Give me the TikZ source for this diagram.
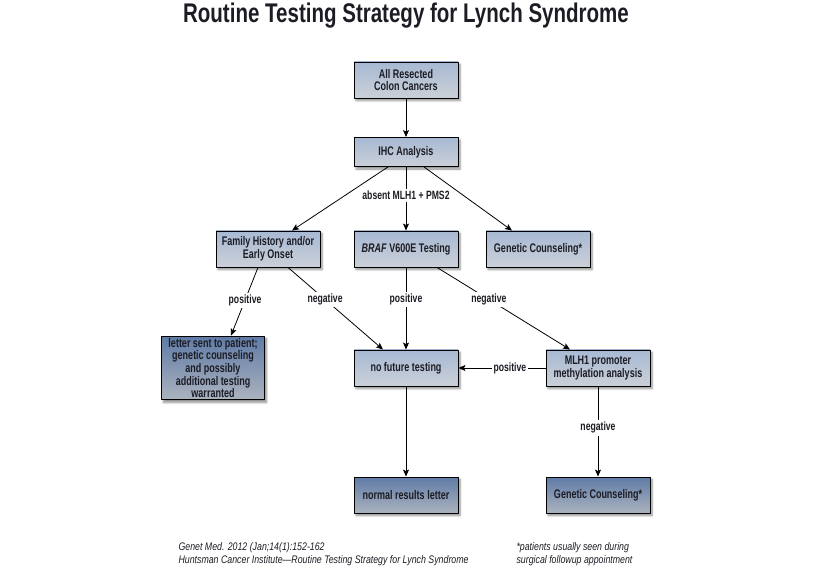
\documentclass[tikz,border=0pt]{standalone}
\usepackage{fontspec}
\setmainfont{Liberation Sans}[FakeStretch=0.8]
\newfontfamily\titlefont{Liberation Sans}[FakeStretch=0.76]
\newfontfamily\boxfont{Liberation Sans}[FakeStretch=0.72]
\usetikzlibrary{shadows.blur,arrows.meta}
\definecolor{lighttop}{HTML}{A7B9D3}
\definecolor{lightbot}{HTML}{CBD0D8}
\definecolor{darktop}{HTML}{5F7BA6}
\definecolor{darkbot}{HTML}{ABB3BF}
\definecolor{ink}{HTML}{1C1C24}
\begin{document}
\begin{tikzpicture}[x=1pt,y=-1pt,line cap=round,line join=round,>={Stealth[length=7pt,width=6pt,inset=1.5pt]},
	box/.style={draw=black,line width=0.9pt,top color=lighttop,bottom color=lightbot,
		minimum width=104pt,minimum height=36pt,align=center,inner sep=2pt,text=ink,
		font=\boxfont\bfseries\fontsize{12.5}{11.3}\selectfont,
		blur shadow={shadow xshift=2pt,shadow yshift=-2.5pt,shadow blur steps=6,shadow opacity=45}},
	darkbox/.style={box,top color=darktop,bottom color=darkbot},
	lbl/.style={fill=white,text=ink,inner sep=2pt,font=\boxfont\bfseries\fontsize{12}{12}\selectfont},
	note/.style={anchor=west,align=left,text=ink,font=\itshape\fontsize{11}{13}\selectfont},
	link/.style={->,line width=0.8pt}]
	\useasboundingbox (0,0) rectangle (820,572);
	\node[text=ink,font=\titlefont\bfseries\fontsize{27}{27}\selectfont] (title) at (406,16) {Routine Testing Strategy for Lynch Syndrome};
	% boxes
	\node[box] (allcc) at (406,80) {All Resected\\Colon Cancers};
	\node[box,minimum height=29pt] (ihc) at (406,152) {IHC Analysis};
	\node[box] (famhist) at (268,249) {Family History and/or\\Early Onset};
	\node[box] (braf) at (406,249) {\textit{BRAF} V600E Testing};
	\node[box] (gc) at (538,249) {Genetic Counseling*};
	\node[darkbox,minimum width=103pt,minimum height=63pt] (letter) at (213,368) {letter sent to patient;\\genetic counseling\\and possibly\\additional testing\\warranted};
	\node[box] (nofuture) at (406,368) {no future testing};
	\node[box] (mlh1) at (598,368) {MLH1 promoter\\methylation analysis};
	\node[darkbox] (normal) at (406,495) {normal results letter};
	\node[darkbox] (gcfinal) at (598,495) {Genetic Counseling*};
	% links
	\draw[link] (allcc) -- (ihc);
	\draw[link] ([xshift=-18pt]ihc.south) -- ([xshift=24pt]famhist.north);
	\draw[link] ([xshift=18pt]ihc.south) -- ([xshift=-26pt]gc.north);
	\draw[link] (ihc) -- node[lbl,pos=0.45] {absent MLH1 + PMS2} (braf);
	\draw[link] ([xshift=-10pt]famhist.south) -- node[lbl,pos=0.48] {positive} ([xshift=18pt]letter.north);
	\draw[link] ([xshift=20pt]famhist.south) -- node[lbl,pos=0.39] {negative} ([xshift=-23pt]nofuture.north);
	\draw[link] (braf) -- node[lbl,pos=0.39] {positive} (nofuture);
	\draw[link] ([xshift=31pt]braf.south) -- node[lbl,pos=0.39] {negative} ([xshift=-28pt]mlh1.north);
	\draw[link] (mlh1) -- node[lbl,pos=0.41] {positive} (nofuture);
	\draw[link] (nofuture) -- (normal);
	\draw[link] (mlh1) -- node[lbl,pos=0.46] {negative} (gcfinal);
	% footnotes
	\node[note] (cite) at (175,554) {Genet Med. 2012 (Jan;14(1):152-162\\Huntsman Cancer Institute---Routine Testing Strategy for Lynch Syndrome};
	\node[note] (remark) at (513,554) {*patients usually seen during\\surgical followup appointment};
\end{tikzpicture}
\end{document}
